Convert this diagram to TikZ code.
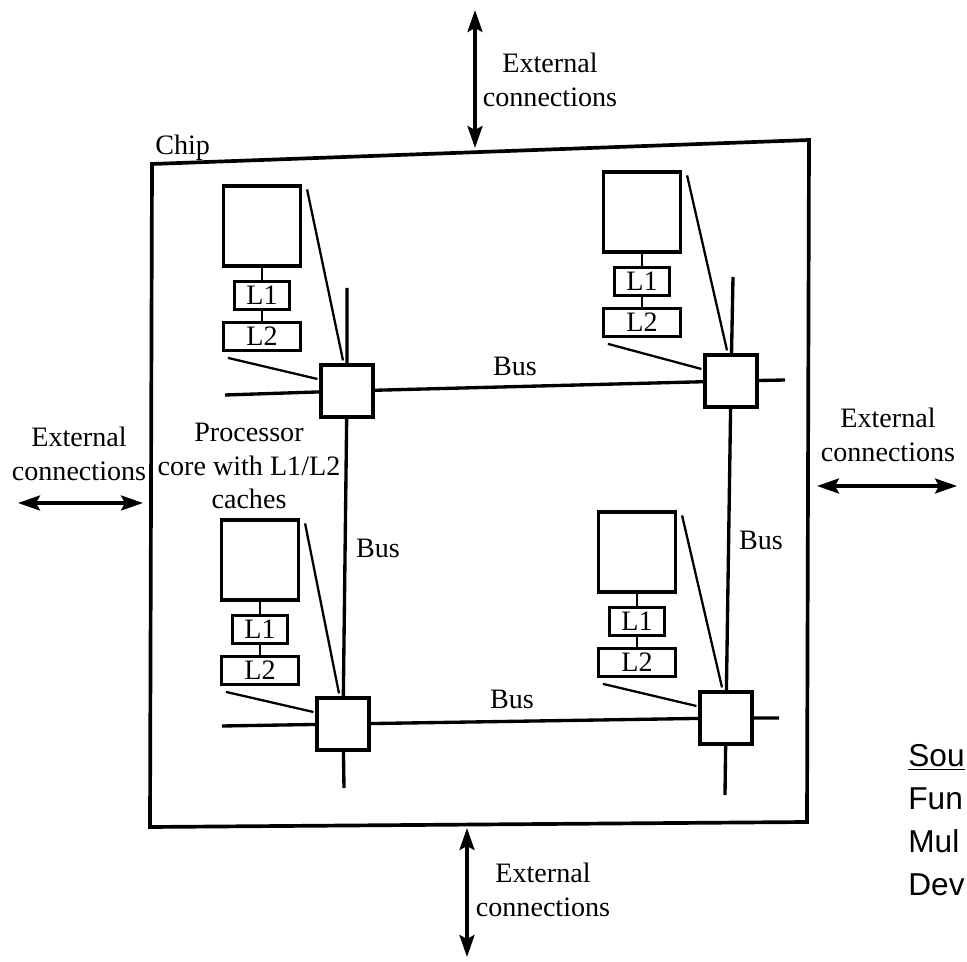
\documentclass[tikz,border=0pt]{standalone}
\usepackage{fontspec}
\setmainfont{Liberation Serif}
\newfontfamily\srcfont{Liberation Sans}
\usepackage{tikz}
\usetikzlibrary{arrows.meta, positioning}
\newcommand{\lblfont}{\fontsize{16}{19.3}\selectfont}
\tikzset{
  core/.style={rectangle, draw=black, line width=1.8pt, minimum width=1.54cm, minimum height=1.6cm},
  cache/.style={rectangle, draw=black, line width=1.8pt, minimum height=0.56cm, inner sep=0pt, font=\lblfont},
  switch/.style={rectangle, draw=black, line width=1.8pt, minimum width=1.04cm, minimum height=1.04cm},
  bus/.style={line width=1.9pt},
  link/.style={line width=1.3pt},
  chipline/.style={line width=2.1pt, line join=miter},
  extarrow/.style={line width=1.8pt, {Stealth[length=0.44cm,width=0.3cm,inset=0.08cm]}-{Stealth[length=0.44cm,width=0.3cm,inset=0.08cm]}},
  lbltext/.style={font=\lblfont, align=center, inner sep=0pt}
}

\begin{document}
\begin{tikzpicture}[x=0.02cm, y=-0.02cm, node distance=0.24cm]
\useasboundingbox (0,0) rectangle (967,962);
% Chip outline
\draw[chipline] (152,164) -- (809,140) -- (807,822) -- (150,827) -- cycle;
\node[lbltext, anchor=base west] (chip) at (155,155) {Chip};

% Bus switches
\node[switch] (tlsw) at (347,391) {};
\node[switch] (trsw) at (731,381) {};
\node[switch] (blsw) at (343,724) {};
\node[switch] (brsw) at (726,718) {};

% Processor cores with L1/L2
\node[core] (tlcore) at (262,226) {};
\node[cache, minimum width=1.1cm, below=of tlcore] (tll1) {L1};
\node[cache, minimum width=1.54cm, below=0.2cm of tll1] (tll2) {L2};
\node[core] (trcore) at (642,212) {};
\node[cache, minimum width=1.1cm, below=of trcore] (trl1) {L1};
\node[cache, minimum width=1.54cm, below=0.2cm of trl1] (trl2) {L2};
\node[core] (blcore) at (260,560) {};
\node[cache, minimum width=1.1cm, below=of blcore] (bll1) {L1};
\node[cache, minimum width=1.54cm, below=0.2cm of bll1] (bll2) {L2};
\node[core] (brcore) at (637,552) {};
\node[cache, minimum width=1.1cm, below=of brcore] (brl1) {L1};
\node[cache, minimum width=1.54cm, below=0.2cm of brl1] (brl2) {L2};

\draw[link] (tlcore) -- (tll1);
\draw[link] (tll1) -- (tll2);
\draw[link] (trcore) -- (trl1);
\draw[link] (trl1) -- (trl2);
\draw[link] (blcore) -- (bll1);
\draw[link] (bll1) -- (bll2);
\draw[link] (brcore) -- (brl1);
\draw[link] (brl1) -- (brl2);

% Buses
\coordinate (tlleft) at (225,395);
\coordinate (trright) at (785,380);
\coordinate (blleft) at (222,726);
\coordinate (brright) at (779,718);
\coordinate (tltop) at (347,288);
\coordinate (blbot) at (344,788);
\coordinate (trtop) at (733,277);
\coordinate (brbot) at (725,795);
\draw[bus] (tlleft) -- (tlsw) -- (trsw) -- (trright);
\draw[bus] (blleft) -- (blsw) -- (brsw) -- (brright);
\draw[bus] (tltop) -- (tlsw) -- (blsw) -- (blbot);
\draw[bus] (trtop) -- (trsw) -- (brsw) -- (brbot);

% Core to switch
\draw[link] ([shift={(5,5)}]tlcore.north east) -- ([shift={(-4,-3)}]tlsw.north);
\draw[link] ([shift={(6,6)}]tll2.south west) -- ([shift={(-2,-12)}]tlsw.west);
\draw[link] ([shift={(5,5)}]trcore.north east) -- ([shift={(-4,-3)}]trsw.north);
\draw[link] ([shift={(6,6)}]trl2.south west) -- ([shift={(-2,-12)}]trsw.west);
\draw[link] ([shift={(5,5)}]blcore.north east) -- ([shift={(-4,-3)}]blsw.north);
\draw[link] ([shift={(6,6)}]bll2.south west) -- ([shift={(-2,-12)}]blsw.west);
\draw[link] ([shift={(5,5)}]brcore.north east) -- ([shift={(-4,-3)}]brsw.north);
\draw[link] ([shift={(6,6)}]brl2.south west) -- ([shift={(-2,-12)}]brsw.west);

% Labels
\node[lbltext] (proclbl) at (249,466) {Processor\\core with L1/L2\\caches};
\node[lbltext, anchor=base] (bustop) at (515,376) {Bus};
\node[lbltext, anchor=base] (busbot) at (512,708) {Bus};
\node[lbltext, anchor=base] (busleft) at (378,558) {Bus};
\node[lbltext, anchor=base] (busright) at (761,550) {Bus};

% External connections
\node[lbltext] (exttop) at (550,80) {External\\connections};
\node[lbltext] (extbot) at (543,890) {External\\connections};
\node[lbltext] (extleft) at (79,454) {External\\connections};
\node[lbltext] (extright) at (888,435) {External\\connections};
\coordinate (topout) at (475,10);
\coordinate (topin) at (475,148);
\coordinate (botin) at (467,828);
\coordinate (botout) at (467,957);
\coordinate (leftout) at (18,503);
\coordinate (leftin) at (143,503);
\coordinate (rightin) at (817,486);
\coordinate (rightout) at (957,486);
\draw[extarrow] (topout) -- (topin);
\draw[extarrow] (botin) -- (botout);
\draw[extarrow] (leftout) -- (leftin);
\draw[extarrow] (rightin) -- (rightout);

% Source note
\node[anchor=north west, align=left, inner sep=0pt, font=\srcfont\fontsize{18}{24.4}\selectfont] (src) at (908,744) {\underline{Sou}\\Fun\\Mul\\Dev};
\end{tikzpicture}
\end{document}
